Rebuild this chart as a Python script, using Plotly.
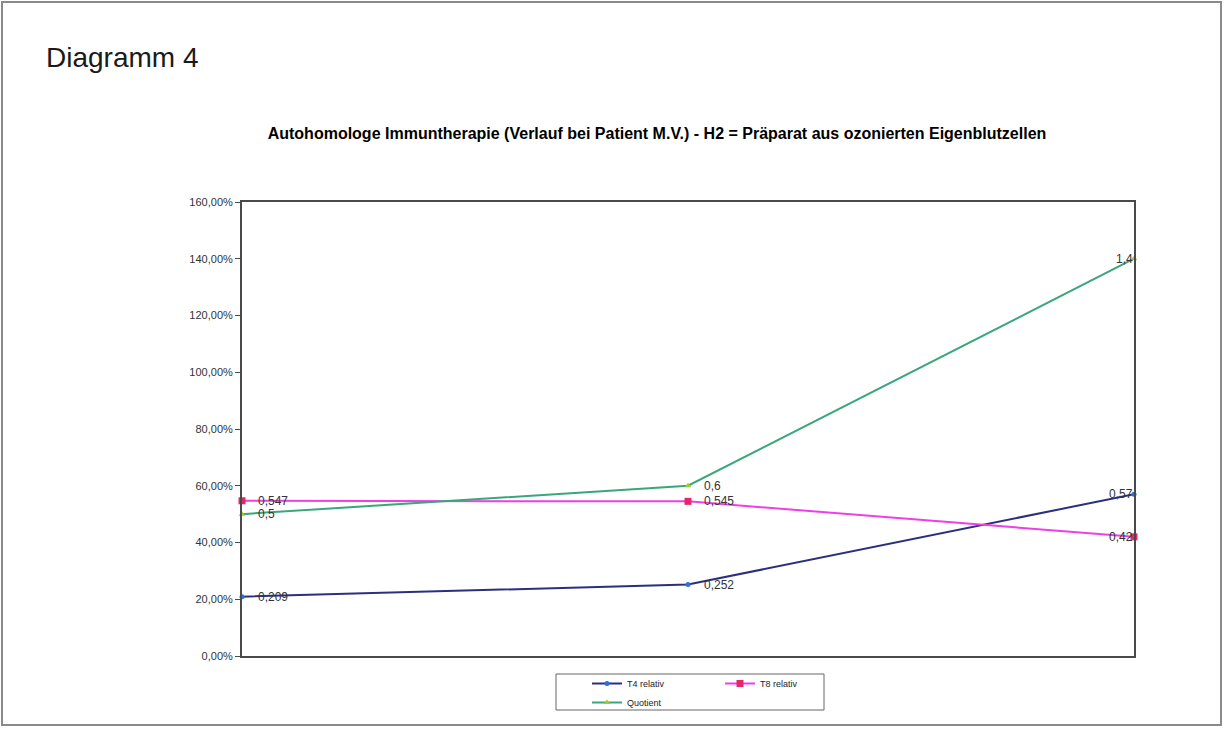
import plotly.graph_objects as go

# Measurement points (three visits) and series values
visits = ["1", "2", "3"]
t4_relativ = [0.209, 0.252, 0.57]
t8_relativ = [0.547, 0.545, 0.42]
quotient = [0.5, 0.6, 1.4]

series_names = ["T4 relativ", "T8 relativ", "Quotient"]
y_ticks = [0, 0.2, 0.4, 0.6, 0.8, 1.0, 1.2, 1.4, 1.6]

chart_title = ("Autohomologe Immuntherapie (Verlauf bei Patient M.V.) - "
               "H2 = Präparat aus ozonierten Eigenblutzellen")
page_title = "Diagramm 4"

W, H = 1225, 729
L, R, T, B = 242, 1134, 202, 656   # plot area in pixels
FONT = "Liberation Sans, Arial, sans-serif"


def px_x(p):
    return (p - L) / (R - L)


def px_y(p):
    return (B - p) / (B - T)


def fmt(v):
    return ("%g" % v).replace(".", ",")


x_idx = list(range(len(visits)))

fig = go.Figure()

styles = [
    dict(line_color="#2b2f7e", marker=dict(symbol="circle", size=5, color="#2f6fd6"), legend="legend"),
    dict(line_color="#ee3fe6", marker=dict(symbol="square", size=7, color="#e0286a"), legend="legend2"),
    dict(line_color="#3aa67c", marker=dict(symbol="triangle-up", size=6, color="#9ccc2e"), legend="legend"),
]
data = [t4_relativ, t8_relativ, quotient]

for name, vals, st in zip(series_names, data, styles):
    fig.add_trace(go.Scatter(
        x=x_idx, y=vals, name=name, mode="lines+markers",
        line=dict(color=st["line_color"], width=2),
        marker=st["marker"], cliponaxis=False, legend=st["legend"],
    ))

# Data labels: right of the point, except at the last visit where they sit left
annotations = []
for vals in data:
    for i, v in enumerate(vals):
        last = i == len(vals) - 1
        annotations.append(dict(
            x=x_idx[i], y=v, xref="x", yref="y", text=fmt(v), showarrow=False,
            xanchor="right" if last else "left", yanchor="middle",
            xshift=1 if last else 14,
            font=dict(family=FONT, size=12, color="#333333"),
        ))

annotations.append(dict(
    x=px_x(44), y=px_y(57), xref="paper", yref="paper", text=page_title,
    showarrow=False, xanchor="left", yanchor="middle",
    font=dict(family=FONT, size=28, color="#1a1a1a"),
))

legend_font = dict(family=FONT, size=9, color="#222222")

fig.update_layout(
    width=W, height=H,
    margin=dict(l=L, r=W - R, t=T, b=H - B, autoexpand=False),
    paper_bgcolor="white", plot_bgcolor="white",
    separators=",.",
    title=dict(
        text="<b>" + chart_title + "</b>", x=657 / W, xanchor="center",
        y=1 - 133 / H, yanchor="middle", yref="container",
        font=dict(family=FONT, size=16, color="#000000"),
    ),
    xaxis=dict(
        range=[0, len(visits) - 1], showticklabels=False, ticks="",
        showgrid=False, zeroline=False, showline=True, mirror=True,
        linecolor="#4a4a4a", linewidth=2,
    ),
    yaxis=dict(
        range=[0, 1.6], tickvals=y_ticks, tickformat=".2%", ticks="outside",
        ticklen=5, tickcolor="#4a4a4a", showgrid=False, zeroline=False,
        showline=True, mirror=True, linecolor="#4a4a4a", linewidth=2,
        tickfont=dict(family=FONT, size=11, color="#333333"),
    ),
    legend=dict(
        x=px_x(587), y=px_y(669), xanchor="left", yanchor="top",
        orientation="v", borderwidth=0, tracegroupgap=0,
        font=legend_font, bgcolor="rgba(0,0,0,0)",
    ),
    legend2=dict(
        x=px_x(720), y=px_y(669), xanchor="left", yanchor="top",
        orientation="v", borderwidth=0, bgcolor="rgba(0,0,0,0)",
        font=legend_font,
    ),
    annotations=annotations,
    shapes=[
        # outer frame of the sheet
        dict(type="rect", xref="paper", yref="paper",
             x0=px_x(2), x1=px_x(1221), y0=px_y(725), y1=px_y(2),
             line=dict(color="#8a8a8a", width=2), layer="below"),
        # frame around the two legend columns
        dict(type="rect", xref="paper", yref="paper",
             x0=px_x(556), x1=px_x(824), y0=px_y(710), y1=px_y(674),
             line=dict(color="#666666", width=1), layer="below"),
    ],
    showlegend=True,
)

fig.write_html("out.html")
